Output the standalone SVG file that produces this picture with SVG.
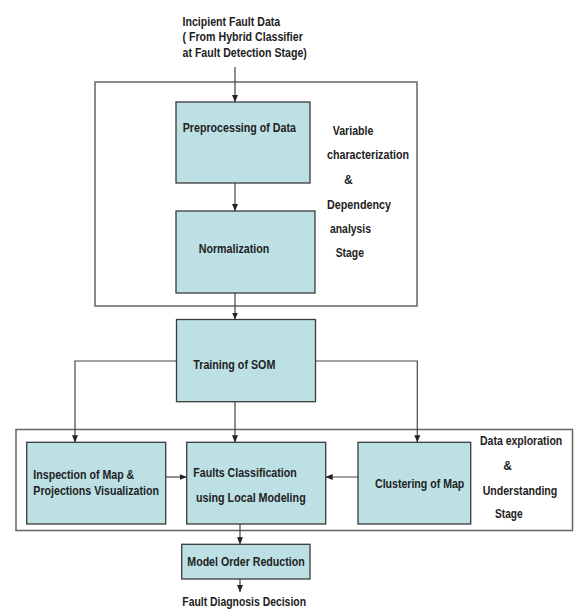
<svg xmlns="http://www.w3.org/2000/svg" width="574" height="610" viewBox="0 0 574 610">
<defs>
<marker id="ah" markerUnits="userSpaceOnUse" markerWidth="7" markerHeight="7" viewBox="0 0 7 7" refX="7" refY="3.5" orient="auto">
<path d="M0,0.5 L7,3.5 L0,6.5 Z" fill="#222"/>
</marker>
<style>
.box{fill:#BCE0E4;stroke:#3a3a3a;stroke-width:1.3}
.frame{fill:none;stroke:#666;stroke-width:1.5}
.con{fill:none;stroke:#444;stroke-width:1.2}
.arr{marker-end:url(#ah)}
text{font-family:"Liberation Sans",Arial,sans-serif;font-size:12px;font-weight:bold;fill:#222}
</style>
</defs>
<rect width="574" height="610" fill="#fff"/>
<g id="frames">
<rect class="frame" x="95" y="82" width="322" height="224"/>
<rect class="frame" x="16" y="429.5" width="556.5" height="101"/>
</g>
<g id="connectors">
<path class="con arr" d="M235,67 V102"/>
<path class="con arr" d="M235,183 V211"/>
<path class="con arr" d="M235,293 V319.5"/>
<path class="con arr" d="M176.5,361 H75 V442.3"/>
<path class="con arr" d="M315.5,361 H417.3 V442.3"/>
<path class="con arr" d="M235,401.7 V442.3"/>
<path class="con arr" d="M165.7,477 H186.7"/>
<path class="con arr" d="M358,477 H325.7"/>
<path class="con arr" d="M240,524 V544.3"/>
<path class="con arr" d="M240,579 V592"/>
</g>
<g id="input">
<text x="182.5" y="26" textLength="97.7" lengthAdjust="spacingAndGlyphs">Incipient Fault Data</text>
<text x="182.5" y="41" textLength="120.3" lengthAdjust="spacingAndGlyphs">( From Hybrid Classifier</text>
<text x="182.5" y="56.5" textLength="124.4" lengthAdjust="spacingAndGlyphs">at Fault Detection Stage)</text>
</g>
<g id="preprocessing">
<rect class="box" x="176" y="102" width="134" height="81"/>
<text x="182.7" y="132.3" textLength="113.3" lengthAdjust="spacingAndGlyphs">Preprocessing of Data</text>
</g>
<g id="normalization">
<rect class="box" x="176" y="211" width="139" height="82"/>
<text x="198.7" y="253" textLength="70.7" lengthAdjust="spacingAndGlyphs">Normalization</text>
</g>
<g id="stage1-label">
<text x="332.7" y="135" textLength="40.7" lengthAdjust="spacingAndGlyphs">Variable</text>
<text x="327" y="159" textLength="82" lengthAdjust="spacingAndGlyphs">characterization</text>
<text x="344" y="184">&amp;</text>
<text x="327" y="209" textLength="64" lengthAdjust="spacingAndGlyphs">Dependency</text>
<text x="330" y="233" textLength="41" lengthAdjust="spacingAndGlyphs">analysis</text>
<text x="335.7" y="257" textLength="28.3" lengthAdjust="spacingAndGlyphs">Stage</text>
</g>
<g id="training">
<rect class="box" x="176.5" y="319.5" width="139" height="82.2"/>
<text x="193.3" y="369.3" textLength="82" lengthAdjust="spacingAndGlyphs">Training of SOM</text>
</g>
<g id="inspection">
<rect class="box" x="26.7" y="442.3" width="139" height="81.7"/>
<text x="33.3" y="479.3" textLength="101" lengthAdjust="spacingAndGlyphs">Inspection of Map &amp;</text>
<text x="33.3" y="495" textLength="125.7" lengthAdjust="spacingAndGlyphs">Projections Visualization</text>
</g>
<g id="faults">
<rect class="box" x="186.7" y="442.3" width="139" height="81.7"/>
<text x="193.3" y="477.3" textLength="103.4" lengthAdjust="spacingAndGlyphs">Faults Classification</text>
<text x="196" y="502.3" textLength="109.7" lengthAdjust="spacingAndGlyphs">using Local Modeling</text>
</g>
<g id="clustering">
<rect class="box" x="358" y="442.3" width="112.7" height="81.7"/>
<text x="375" y="488.3" textLength="89.3" lengthAdjust="spacingAndGlyphs">Clustering of Map</text>
</g>
<g id="stage2-label">
<text x="480" y="445" textLength="82.3" lengthAdjust="spacingAndGlyphs">Data exploration</text>
<text x="503.3" y="470">&amp;</text>
<text x="482.7" y="495" textLength="74.6" lengthAdjust="spacingAndGlyphs">Understanding</text>
<text x="495" y="518.3" textLength="27.7" lengthAdjust="spacingAndGlyphs">Stage</text>
</g>
<g id="mor">
<rect class="box" x="181.7" y="544.3" width="128.3" height="34.7"/>
<text x="187.3" y="566" textLength="117.4" lengthAdjust="spacingAndGlyphs">Model Order Reduction</text>
</g>
<g id="output">
<text x="182.3" y="606" textLength="123.7" lengthAdjust="spacingAndGlyphs">Fault Diagnosis Decision</text>
</g>
</svg>
